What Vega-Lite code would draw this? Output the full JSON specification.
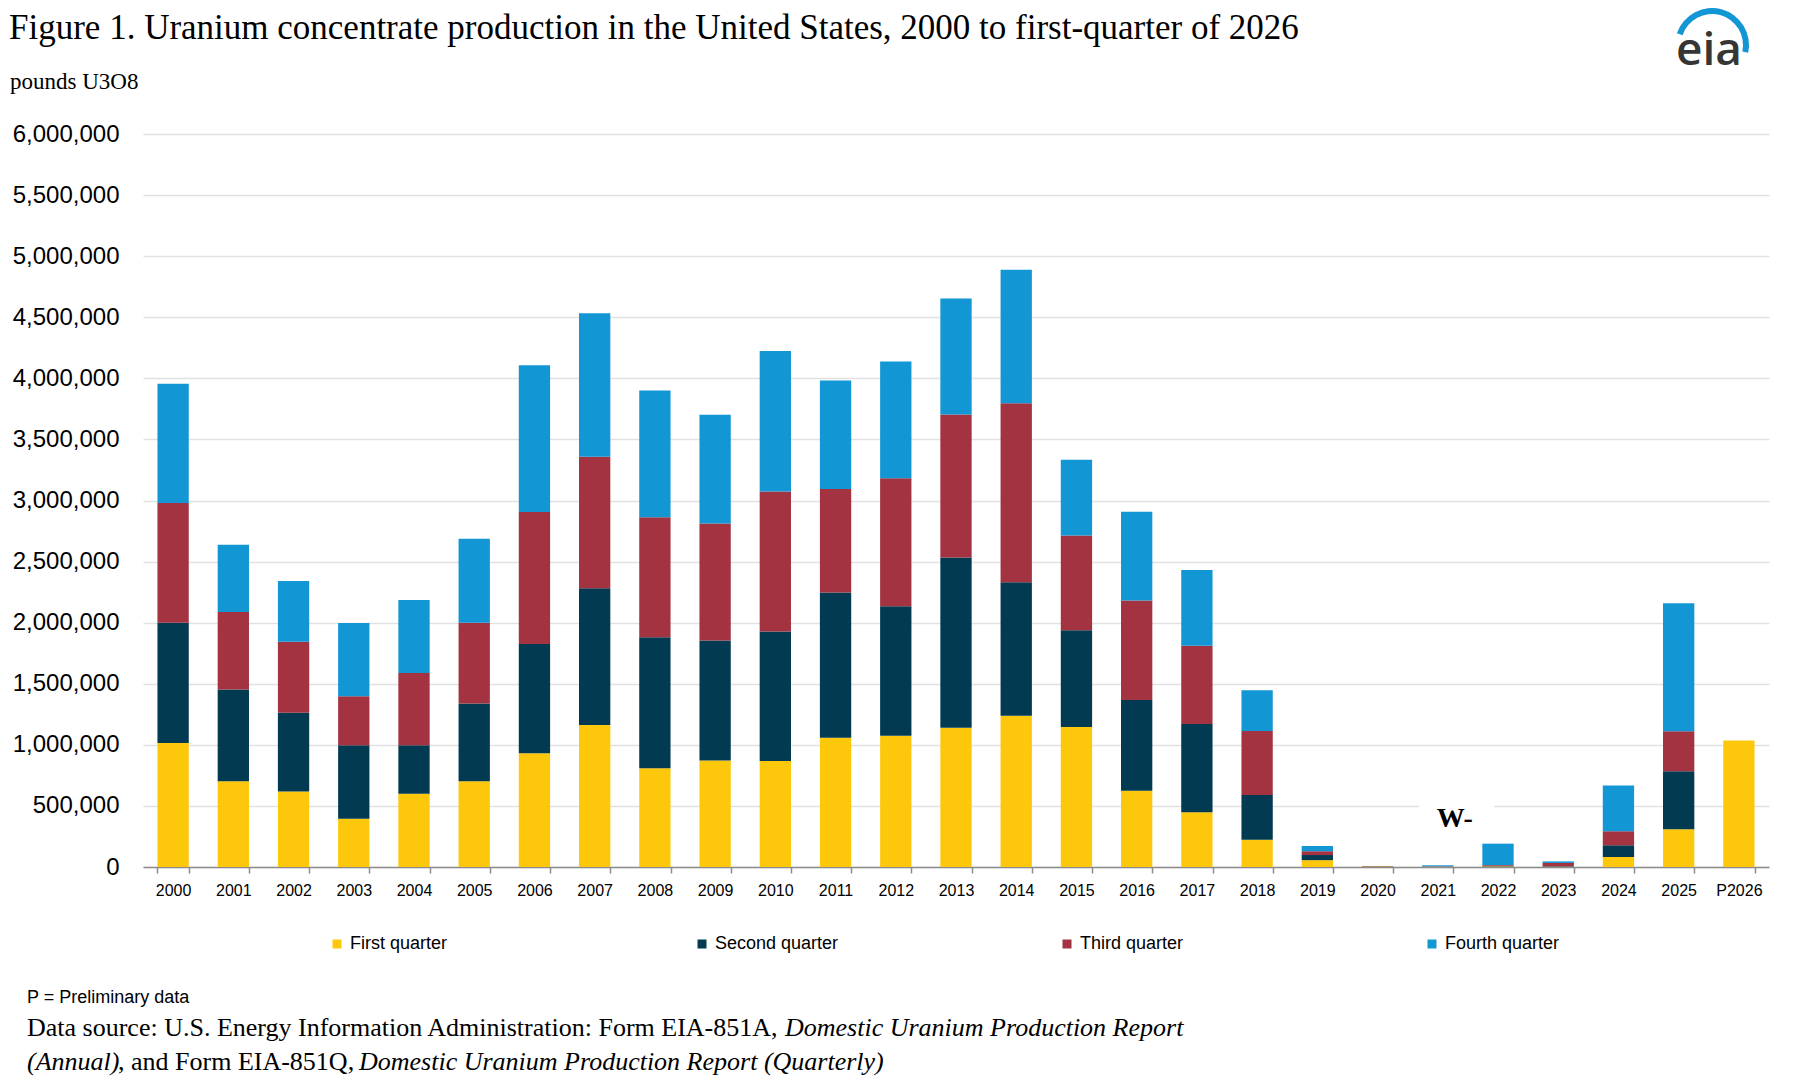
{
  "$schema": "https://vega.github.io/schema/vega-lite/v6.json",
  "width": 1626,
  "height": 733,
  "autosize": {"type": "none"},
  "padding": {"left": 143, "top": 134, "right": 29, "bottom": 213},
  "background": "white",
  "config": {"view": {"stroke": null}, "font": "Liberation Sans"},
  "data": {
    "values": [
      {"year": "2000", "quarter": "First quarter", "q": 1, "pounds": 1016000},
      {"year": "2000", "quarter": "Second quarter", "q": 2, "pounds": 984000},
      {"year": "2000", "quarter": "Third quarter", "q": 3, "pounds": 980000},
      {"year": "2000", "quarter": "Fourth quarter", "q": 4, "pounds": 976000},
      {"year": "2001", "quarter": "First quarter", "q": 1, "pounds": 702000},
      {"year": "2001", "quarter": "Second quarter", "q": 2, "pounds": 750000},
      {"year": "2001", "quarter": "Third quarter", "q": 3, "pounds": 636000},
      {"year": "2001", "quarter": "Fourth quarter", "q": 4, "pounds": 549000},
      {"year": "2002", "quarter": "First quarter", "q": 1, "pounds": 618000},
      {"year": "2002", "quarter": "Second quarter", "q": 2, "pounds": 645000},
      {"year": "2002", "quarter": "Third quarter", "q": 3, "pounds": 580000},
      {"year": "2002", "quarter": "Fourth quarter", "q": 4, "pounds": 499000},
      {"year": "2003", "quarter": "First quarter", "q": 1, "pounds": 395000},
      {"year": "2003", "quarter": "Second quarter", "q": 2, "pounds": 602000},
      {"year": "2003", "quarter": "Third quarter", "q": 3, "pounds": 401000},
      {"year": "2003", "quarter": "Fourth quarter", "q": 4, "pounds": 599000},
      {"year": "2004", "quarter": "First quarter", "q": 1, "pounds": 599000},
      {"year": "2004", "quarter": "Second quarter", "q": 2, "pounds": 398000},
      {"year": "2004", "quarter": "Third quarter", "q": 3, "pounds": 592000},
      {"year": "2004", "quarter": "Fourth quarter", "q": 4, "pounds": 596000},
      {"year": "2005", "quarter": "First quarter", "q": 1, "pounds": 702000},
      {"year": "2005", "quarter": "Second quarter", "q": 2, "pounds": 637000},
      {"year": "2005", "quarter": "Third quarter", "q": 3, "pounds": 661000},
      {"year": "2005", "quarter": "Fourth quarter", "q": 4, "pounds": 687000},
      {"year": "2006", "quarter": "First quarter", "q": 1, "pounds": 931000},
      {"year": "2006", "quarter": "Second quarter", "q": 2, "pounds": 894000},
      {"year": "2006", "quarter": "Third quarter", "q": 3, "pounds": 1081000},
      {"year": "2006", "quarter": "Fourth quarter", "q": 4, "pounds": 1201000},
      {"year": "2007", "quarter": "First quarter", "q": 1, "pounds": 1163000},
      {"year": "2007", "quarter": "Second quarter", "q": 2, "pounds": 1119000},
      {"year": "2007", "quarter": "Third quarter", "q": 3, "pounds": 1076000},
      {"year": "2007", "quarter": "Fourth quarter", "q": 4, "pounds": 1175000},
      {"year": "2008", "quarter": "First quarter", "q": 1, "pounds": 809000},
      {"year": "2008", "quarter": "Second quarter", "q": 2, "pounds": 1072000},
      {"year": "2008", "quarter": "Third quarter", "q": 3, "pounds": 981000},
      {"year": "2008", "quarter": "Fourth quarter", "q": 4, "pounds": 1038000},
      {"year": "2009", "quarter": "First quarter", "q": 1, "pounds": 872000},
      {"year": "2009", "quarter": "Second quarter", "q": 2, "pounds": 983000},
      {"year": "2009", "quarter": "Third quarter", "q": 3, "pounds": 957000},
      {"year": "2009", "quarter": "Fourth quarter", "q": 4, "pounds": 889000},
      {"year": "2010", "quarter": "First quarter", "q": 1, "pounds": 868000},
      {"year": "2010", "quarter": "Second quarter", "q": 2, "pounds": 1059000},
      {"year": "2010", "quarter": "Third quarter", "q": 3, "pounds": 1146000},
      {"year": "2010", "quarter": "Fourth quarter", "q": 4, "pounds": 1150000},
      {"year": "2011", "quarter": "First quarter", "q": 1, "pounds": 1058000},
      {"year": "2011", "quarter": "Second quarter", "q": 2, "pounds": 1188000},
      {"year": "2011", "quarter": "Third quarter", "q": 3, "pounds": 848000},
      {"year": "2011", "quarter": "Fourth quarter", "q": 4, "pounds": 888000},
      {"year": "2012", "quarter": "First quarter", "q": 1, "pounds": 1075000},
      {"year": "2012", "quarter": "Second quarter", "q": 2, "pounds": 1059000},
      {"year": "2012", "quarter": "Third quarter", "q": 3, "pounds": 1048000},
      {"year": "2012", "quarter": "Fourth quarter", "q": 4, "pounds": 956000},
      {"year": "2013", "quarter": "First quarter", "q": 1, "pounds": 1140000},
      {"year": "2013", "quarter": "Second quarter", "q": 2, "pounds": 1394000},
      {"year": "2013", "quarter": "Third quarter", "q": 3, "pounds": 1170000},
      {"year": "2013", "quarter": "Fourth quarter", "q": 4, "pounds": 950000},
      {"year": "2014", "quarter": "First quarter", "q": 1, "pounds": 1238000},
      {"year": "2014", "quarter": "Second quarter", "q": 2, "pounds": 1092000},
      {"year": "2014", "quarter": "Third quarter", "q": 3, "pounds": 1466000},
      {"year": "2014", "quarter": "Fourth quarter", "q": 4, "pounds": 1092000},
      {"year": "2015", "quarter": "First quarter", "q": 1, "pounds": 1146000},
      {"year": "2015", "quarter": "Second quarter", "q": 2, "pounds": 791000},
      {"year": "2015", "quarter": "Third quarter", "q": 3, "pounds": 777000},
      {"year": "2015", "quarter": "Fourth quarter", "q": 4, "pounds": 620000},
      {"year": "2016", "quarter": "First quarter", "q": 1, "pounds": 624000},
      {"year": "2016", "quarter": "Second quarter", "q": 2, "pounds": 743000},
      {"year": "2016", "quarter": "Third quarter", "q": 3, "pounds": 814000},
      {"year": "2016", "quarter": "Fourth quarter", "q": 4, "pounds": 726000},
      {"year": "2017", "quarter": "First quarter", "q": 1, "pounds": 448000},
      {"year": "2017", "quarter": "Second quarter", "q": 2, "pounds": 722000},
      {"year": "2017", "quarter": "Third quarter", "q": 3, "pounds": 641000},
      {"year": "2017", "quarter": "Fourth quarter", "q": 4, "pounds": 621000},
      {"year": "2018", "quarter": "First quarter", "q": 1, "pounds": 224000},
      {"year": "2018", "quarter": "Second quarter", "q": 2, "pounds": 366000},
      {"year": "2018", "quarter": "Third quarter", "q": 3, "pounds": 524000},
      {"year": "2018", "quarter": "Fourth quarter", "q": 4, "pounds": 333000},
      {"year": "2019", "quarter": "First quarter", "q": 1, "pounds": 56000},
      {"year": "2019", "quarter": "Second quarter", "q": 2, "pounds": 42000},
      {"year": "2019", "quarter": "Third quarter", "q": 3, "pounds": 31000},
      {"year": "2019", "quarter": "Fourth quarter", "q": 4, "pounds": 43000},
      {"year": "2020", "quarter": "First quarter", "q": 1, "pounds": 4000},
      {"year": "2020", "quarter": "Second quarter", "q": 2, "pounds": 2000},
      {"year": "2020", "quarter": "Third quarter", "q": 3, "pounds": 1500},
      {"year": "2020", "quarter": "Fourth quarter", "q": 4, "pounds": 1500},
      {"year": "2021", "quarter": "First quarter", "q": 1, "pounds": 2000},
      {"year": "2021", "quarter": "Second quarter", "q": 2, "pounds": 2000},
      {"year": "2021", "quarter": "Third quarter", "q": 3, "pounds": 2000},
      {"year": "2021", "quarter": "Fourth quarter", "q": 4, "pounds": 8000},
      {"year": "2022", "quarter": "First quarter", "q": 1, "pounds": 5000},
      {"year": "2022", "quarter": "Second quarter", "q": 2, "pounds": 5000},
      {"year": "2022", "quarter": "Third quarter", "q": 3, "pounds": 6000},
      {"year": "2022", "quarter": "Fourth quarter", "q": 4, "pounds": 175000},
      {"year": "2023", "quarter": "First quarter", "q": 1, "pounds": 2000},
      {"year": "2023", "quarter": "Second quarter", "q": 2, "pounds": 4000},
      {"year": "2023", "quarter": "Third quarter", "q": 3, "pounds": 27000},
      {"year": "2023", "quarter": "Fourth quarter", "q": 4, "pounds": 13000},
      {"year": "2024", "quarter": "First quarter", "q": 1, "pounds": 81000},
      {"year": "2024", "quarter": "Second quarter", "q": 2, "pounds": 97000},
      {"year": "2024", "quarter": "Third quarter", "q": 3, "pounds": 114000},
      {"year": "2024", "quarter": "Fourth quarter", "q": 4, "pounds": 376000},
      {"year": "2025", "quarter": "First quarter", "q": 1, "pounds": 309000},
      {"year": "2025", "quarter": "Second quarter", "q": 2, "pounds": 475000},
      {"year": "2025", "quarter": "Third quarter", "q": 3, "pounds": 328000},
      {"year": "2025", "quarter": "Fourth quarter", "q": 4, "pounds": 1046000},
      {"year": "P2026", "quarter": "First quarter", "q": 1, "pounds": 1035000}
    ]
  },
  "layer": [
    {
      "mark": {"type": "bar"},
      "encoding": {
        "x": {
          "field": "year",
          "type": "ordinal",
          "sort": null,
          "scale": {"paddingInner": 0.48, "paddingOuter": 0.24},
          "axis": {
            "title": null,
            "labelAngle": 0,
            "labelFont": "Liberation Sans",
            "labelFontSize": 16,
            "labelColor": "black",
            "labelPadding": 9,
            "tickBand": "extent",
            "tickSize": 6,
            "tickColor": "#8c8c8c",
            "tickWidth": 1.5,
            "domainColor": "#8c8c8c",
            "domainWidth": 1.5,
            "grid": false
          }
        },
        "y": {
          "field": "pounds",
          "type": "quantitative",
          "scale": {"domain": [0, 6000000], "nice": false},
          "axis": {
            "title": null,
            "values": [0, 500000, 1000000, 1500000, 2000000, 2500000, 3000000, 3500000, 4000000, 4500000, 5000000, 5500000, 6000000],
            "format": ",.0f",
            "labelFont": "Liberation Sans",
            "labelFontSize": 24,
            "labelColor": "black",
            "labelPadding": 24,
            "domain": false,
            "ticks": false,
            "gridColor": "#e1e1e1",
            "gridWidth": 1.5
          }
        },
        "order": {"field": "q", "type": "quantitative", "sort": "ascending"},
        "color": {
          "field": "quarter",
          "type": "nominal",
          "sort": ["First quarter", "Second quarter", "Third quarter", "Fourth quarter"],
          "scale": {
            "domain": ["First quarter", "Second quarter", "Third quarter", "Fourth quarter"],
            "range": ["#fdc70c", "#023a52", "#a33340", "#1396d4"]
          },
          "legend": {
            "orient": "none",
            "legendX": 185,
            "legendY": 801,
            "direction": "horizontal",
            "columns": 4,
            "gridAlign": "all",
            "columnPadding": 219,
            "padding": 0,
            "title": null,
            "symbolType": "square",
            "symbolSize": 81,
            "symbolStrokeWidth": 0,
            "labelFont": "Liberation Sans",
            "labelFontSize": 18,
            "labelColor": "black",
            "labelOffset": 4
          }
        }
      }
    },
    {
      "data": {"values": [{}]},
      "mark": {"type": "bar", "width": 75, "xOffset": 19, "color": "white"},
      "encoding": {
        "x": {"datum": "2021"},
        "y": {"datum": 440000},
        "y2": {"datum": 570000}
      }
    },
    {
      "data": {"values": [{}]},
      "mark": {"type": "text", "font": "Liberation Serif", "fontWeight": "bold", "fontSize": 28, "dx": 17, "baseline": "middle", "color": "black"},
      "encoding": {
        "x": {"datum": "2021"},
        "y": {"datum": 389000},
        "text": {"value": "W-"}
      }
    },
    {
      "data": {"values": [{}]},
      "mark": {"type": "text", "font": "Liberation Serif", "fontSize": 35, "align": "left", "baseline": "alphabetic", "color": "black"},
      "encoding": {
        "x": {"value": -134},
        "y": {"value": -95},
        "text": {"value": "Figure 1.  Uranium concentrate production in the United States, 2000 to first-quarter of 2026"}
      }
    },
    {
      "data": {"values": [{}]},
      "mark": {"type": "text", "font": "Liberation Serif", "fontSize": 23, "align": "left", "baseline": "alphabetic", "color": "black"},
      "encoding": {
        "x": {"value": -133},
        "y": {"value": -45},
        "text": {"value": "pounds U3O8"}
      }
    },
    {
      "data": {"values": [{}]},
      "mark": {"type": "text", "font": "Liberation Sans", "fontSize": 18, "align": "left", "baseline": "alphabetic", "color": "black"},
      "encoding": {
        "x": {"value": -116},
        "y": {"value": 869},
        "text": {"value": "P = Preliminary data"}
      }
    },
    {
      "data": {"values": [{}]},
      "mark": {"type": "text", "font": "Liberation Serif", "fontSize": 26, "align": "left", "baseline": "alphabetic", "color": "black"},
      "encoding": {
        "x": {"value": -116},
        "y": {"value": 902},
        "text": {"value": "Data source: U.S. Energy Information Administration: Form EIA-851A,"}
      }
    },
    {
      "data": {"values": [{}]},
      "mark": {"type": "text", "font": "Liberation Serif", "fontSize": 26, "fontStyle": "italic", "align": "left", "baseline": "alphabetic", "color": "black"},
      "encoding": {
        "x": {"value": 642},
        "y": {"value": 902},
        "text": {"value": "Domestic Uranium Production Report"}
      }
    },
    {
      "data": {"values": [{}]},
      "mark": {"type": "text", "font": "Liberation Serif", "fontSize": 26, "fontStyle": "italic", "align": "left", "baseline": "alphabetic", "color": "black"},
      "encoding": {
        "x": {"value": -116},
        "y": {"value": 936},
        "text": {"value": "(Annual)"}
      }
    },
    {
      "data": {"values": [{}]},
      "mark": {"type": "text", "font": "Liberation Serif", "fontSize": 26, "align": "left", "baseline": "alphabetic", "color": "black"},
      "encoding": {
        "x": {"value": -25},
        "y": {"value": 936},
        "text": {"value": ", and Form EIA-851Q,"}
      }
    },
    {
      "data": {"values": [{}]},
      "mark": {"type": "text", "font": "Liberation Serif", "fontSize": 26, "fontStyle": "italic", "align": "left", "baseline": "alphabetic", "color": "black"},
      "encoding": {
        "x": {"value": 216},
        "y": {"value": 936},
        "text": {"value": "Domestic Uranium Production Report (Quarterly)"}
      }
    },
    {
      "data": {"values": [{}]},
      "mark": {"type": "arc", "x": 1569, "y": -89, "theta": -1.25, "theta2": 1.78, "radius": 37, "radius2": 31, "color": "#1396d4"},
      "encoding": {}
    },
    {
      "data": {"values": [{}]},
      "mark": {"type": "text", "font": "Open Sans", "fontWeight": 600, "fontSize": 46, "align": "center", "baseline": "alphabetic", "color": "#363636"},
      "encoding": {
        "x": {"value": 1566},
        "y": {"value": -69},
        "text": {"value": "eia"}
      }
    }
  ]
}
